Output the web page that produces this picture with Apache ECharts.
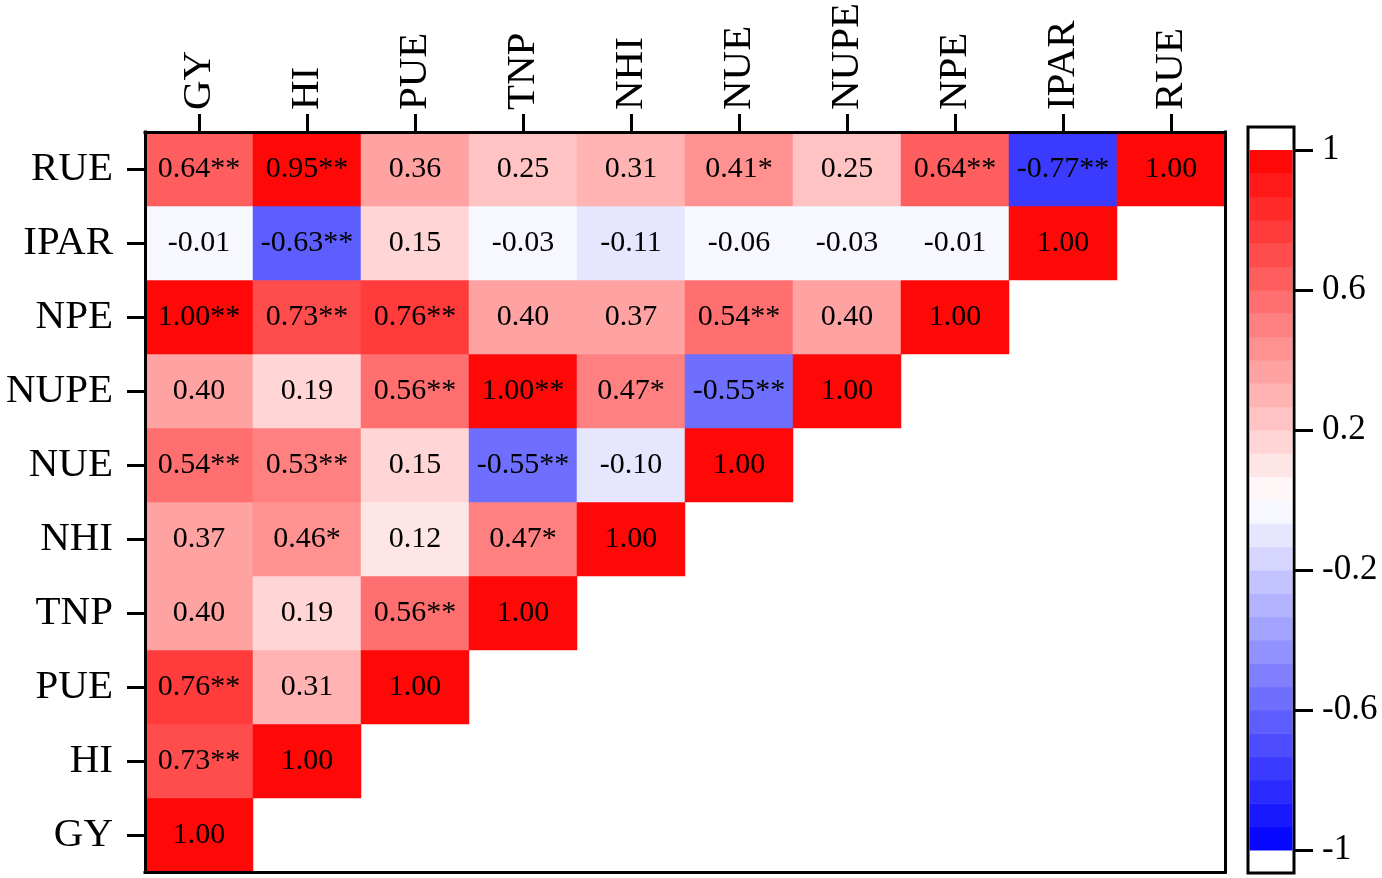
<!DOCTYPE html>
<html>
<head>
<meta charset="utf-8">
<script src="https://cdn.jsdelivr.net/npm/echarts@6/dist/echarts.min.js"></script>
<style>
  html, body { margin: 0; padding: 0; background: #fff; }
  #chart { width: 1382px; height: 878px; }
</style>
</head>
<body>
<div id="chart"></div>
<script>
// variables, bottom row -> top row on y, left -> right on x
const vars = ['GY', 'HI', 'PUE', 'TNP', 'NHI', 'NUE', 'NUPE', 'NPE', 'IPAR', 'RUE']

// lower triangle, row i has values for columns 0..i
const corr = [
  [1.00],
  [0.73, 1.00],
  [0.76, 0.31, 1.00],
  [0.40, 0.19, 0.56, 1.00],
  [0.37, 0.46, 0.12, 0.47, 1.00],
  [0.54, 0.53, 0.15, -0.55, -0.10, 1.00],
  [0.40, 0.19, 0.56, 1.00, 0.47, -0.55, 1.00],
  [1.00, 0.73, 0.76, 0.40, 0.37, 0.54, 0.40, 1.00],
  [-0.01, -0.63, 0.15, -0.03, -0.11, -0.06, -0.03, -0.01, 1.00],
  [0.64, 0.95, 0.36, 0.25, 0.31, 0.41, 0.25, 0.64, -0.77, 1.00]
]

const stars = [
  [''],
  ['**', ''],
  ['**', '', ''],
  ['', '', '**', ''],
  ['', '*', '', '*', ''],
  ['**', '**', '', '**', '', ''],
  ['', '', '**', '**', '*', '**', ''],
  ['**', '**', '**', '', '', '**', '', ''],
  ['', '**', '', '', '', '', '', '', ''],
  ['**', '**', '', '', '', '*', '', '**', '**', '']
]

const barTicks = [-1, -0.6, -0.2, 0.2, 0.6, 1]
const barTickLabels = ['-1', '-0.6', '-0.2', '0.2', '0.6', '1']

const FONT = 'Liberation Serif'
const STEPS = 15

// 30 colour steps, blue - white - red
const pieces = []
for (let k = -STEPS; k <= STEPS; k++) {
  if (k === 0) continue
  const lo = k > 0 ? (k - 1) / STEPS : k / STEPS
  const hi = k > 0 ? k / STEPS : (k + 1) / STEPS
  const t = (Math.abs(k) - 0.5) / STEPS
  const c = Math.round(255 * (1 - t))
  const color = k > 0 ? `rgb(255,${c},${c})` : `rgb(${c},${c},255)`
  const piece = { lte: hi, color: color }
  if (k === -STEPS) piece.gte = lo
  else piece.gt = lo
  pieces.push(piece)
}

const heatData = []
corr.forEach((row, i) => {
  row.forEach((v, j) => {
    heatData.push({ value: [j, i, v], star: stars[i][j] })
  })
})

const barData = pieces.map((p, idx) => [p.gt !== undefined ? p.gt : p.gte, p.lte, idx])

const chart = echarts.init(document.getElementById('chart'))

const lineBlack = { color: '#000', width: 3, cap: 'square' }

const option = {
  backgroundColor: '#fff',
  animation: false,
  grid: [
    { left: 145, top: 132, width: 1080, height: 740, show: false },
    // colour steps + tick axis
    { left: 1248, top: 150, width: 46, height: 700, show: false },
    // the frame round the colour bar
    { left: 1248, top: 127, width: 46, height: 746, show: true, borderColor: '#000', borderWidth: 3, backgroundColor: 'transparent' }
  ],
  xAxis: [
    {
      type: 'category',
      gridIndex: 0,
      position: 'top',
      data: vars,
      z: 10,
      axisLine: { show: true, lineStyle: lineBlack },
      axisTick: { show: true, alignWithLabel: true, length: 18, lineStyle: { color: '#000', width: 3 } },
      axisLabel: { rotate: -90, margin: 22, color: '#000', fontFamily: FONT, fontSize: 41 },
      splitLine: { show: false }
    },
    {
      type: 'category',
      gridIndex: 0,
      position: 'bottom',
      data: vars,
      z: 10,
      axisLine: { show: true, lineStyle: lineBlack },
      axisTick: { show: false },
      axisLabel: { show: false }
    },
    { type: 'value', gridIndex: 1, min: 0, max: 1, show: false },
    { type: 'value', gridIndex: 2, min: 0, max: 1, show: false }
  ],
  yAxis: [
    {
      type: 'category',
      gridIndex: 0,
      data: vars,
      z: 10,
      axisLine: { show: true, lineStyle: lineBlack },
      axisTick: { show: true, alignWithLabel: true, length: 18, lineStyle: { color: '#000', width: 3 } },
      axisLabel: { margin: 32, color: '#000', fontFamily: FONT, fontSize: 41 },
      splitLine: { show: false }
    },
    {
      type: 'category',
      gridIndex: 0,
      position: 'right',
      data: vars,
      z: 10,
      axisLine: { show: true, lineStyle: lineBlack },
      axisTick: { show: false },
      axisLabel: { show: false }
    },
    {
      type: 'value',
      gridIndex: 1,
      position: 'right',
      min: -1,
      max: 1,
      interval: 0.4,
      z: 10,
      axisLine: { show: false, onZero: false },
      axisTick: { show: true, length: 19, lineStyle: { color: '#000', width: 3 } },
      axisLabel: {
        margin: 28,
        color: '#000',
        fontFamily: FONT,
        fontSize: 35,
        formatter: (v) => {
          const i = barTicks.findIndex(t => Math.abs(t - v) < 1e-6)
          return i >= 0 ? barTickLabels[i] : ''
        }
      },
      splitLine: { show: false }
    },
    { type: 'value', gridIndex: 2, min: 0, max: 1, show: false }
  ],
  visualMap: {
    type: 'piecewise',
    show: false,
    seriesIndex: 0,
    dimension: 2,
    pieces: pieces
  },
  series: [
    {
      type: 'heatmap',
      xAxisIndex: 0,
      yAxisIndex: 0,
      data: heatData,
      label: {
        show: true,
        color: '#000',
        fontFamily: FONT,
        fontSize: 30,
        formatter: (p) => p.value[2].toFixed(2) + p.data.star
      },
      emphasis: { disabled: true }
    },
    {
      type: 'custom',
      xAxisIndex: 2,
      yAxisIndex: 2,
      data: barData,
      encode: { y: [0, 1] },
      silent: true,
      renderItem: (params, api) => {
        const top = api.coord([0, api.value(1)])
        const bottom = api.coord([1, api.value(0)])
        return {
          type: 'rect',
          shape: {
            x: top[0] + 1.5,
            y: top[1],
            width: bottom[0] - top[0] - 3,
            height: bottom[1] - top[1] + 0.5
          },
          style: { fill: pieces[api.value(2)].color }
        }
      }
    }
  ]
}

chart.setOption(option)
</script>
</body>
</html>
